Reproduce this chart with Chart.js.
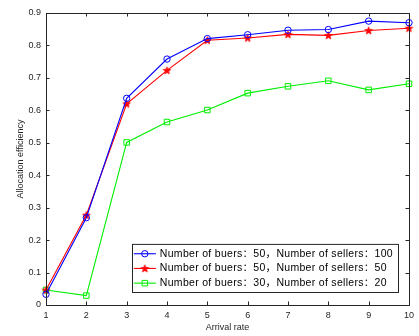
<!DOCTYPE html>
<html>
<head>
<meta charset="utf-8">
<script src="https://cdn.jsdelivr.net/npm/chart.js@4.4.1/dist/chart.umd.min.js"></script>
<style>
  html, body { margin: 0; padding: 0; background: #ffffff; }
  canvas { display: block; }
</style>
</head>
<body>
<canvas id="chart" width="419" height="336"></canvas>
<script>
// Arrival rates on the x axis
const arrivalRates = [1, 2, 3, 4, 5, 6, 7, 8, 9, 10];

// Allocation efficiency for each market size
const buyers50Sellers100 = [0.033, 0.269, 0.637, 0.758, 0.821, 0.833, 0.847, 0.849, 0.875, 0.870];
const buyers50Sellers50  = [0.046, 0.277, 0.620, 0.723, 0.816, 0.823, 0.834, 0.831, 0.846, 0.853];
const buyers30Sellers20  = [0.046, 0.029, 0.501, 0.564, 0.601, 0.653, 0.674, 0.691, 0.663, 0.682];

const seriesLabels = [
  'Number of buers\uFF1A50\uFF0CNumber of sellers\uFF1A100',
  'Number of buers\uFF1A50\uFF0CNumber of sellers\uFF1A50',
  'Number of buers\uFF1A30\uFF0CNumber of sellers\uFF1A20'
];

const yTicks = [0, 0.1, 0.2, 0.3, 0.4, 0.5, 0.6, 0.7, 0.8, 0.9];

const axisColor = '#262626';
const axisFont = { family: '"Liberation Sans", Arial, sans-serif', size: 9 };

// Five-pointed star marker drawn onto a small canvas
function makeStar(color) {
  const size = 11;
  const c = document.createElement('canvas');
  c.width = size; c.height = size;
  const g = c.getContext('2d');
  const cx = size / 2, cy = size / 2 + 0.3;
  const outer = 4.0, inner = 1.7;
  g.beginPath();
  for (let i = 0; i < 10; i++) {
    const r = i % 2 === 0 ? outer : inner;
    const a = -Math.PI / 2 + i * Math.PI / 5;
    const px = cx + r * Math.cos(a), py = cy + r * Math.sin(a);
    if (i === 0) g.moveTo(px, py); else g.lineTo(px, py);
  }
  g.closePath();
  g.fillStyle = color;
  g.fill();
  g.lineWidth = 0.8;
  g.strokeStyle = color;
  g.stroke();
  return c;
}
const redStar = makeStar('#ff0000');

function toPoints(values) {
  return arrivalRates.map((x, i) => ({ x: x, y: values[i] }));
}

// Box around the plot area with inward tick marks on all four sides
const boxTicksPlugin = {
  id: 'boxTicks',
  afterDatasetsDraw(chart) {
    const { ctx, chartArea: a, scales } = chart;
    const len = 3.5;
    ctx.save();
    ctx.strokeStyle = axisColor;
    ctx.lineWidth = 1;
    ctx.beginPath();
    scales.x.ticks.forEach(t => {
      const px = Math.round(scales.x.getPixelForValue(t.value)) + 0.5;
      ctx.moveTo(px, a.bottom); ctx.lineTo(px, a.bottom - len);
      ctx.moveTo(px, a.top); ctx.lineTo(px, a.top + len);
    });
    scales.y.ticks.forEach(t => {
      const py = Math.round(scales.y.getPixelForValue(t.value)) + 0.5;
      ctx.moveTo(a.left, py); ctx.lineTo(a.left + len, py);
      ctx.moveTo(a.right, py); ctx.lineTo(a.right - len, py);
    });
    ctx.stroke();
    ctx.strokeRect(Math.round(a.left) + 0.5, Math.round(a.top) + 0.5,
                   Math.round(a.right - a.left), Math.round(a.bottom - a.top));
    ctx.restore();
  }
};

// Legend box in the lower right corner of the plot area
const innerLegendPlugin = {
  id: 'innerLegend',
  afterDraw(chart) {
    const { ctx, chartArea: a } = chart;
    const sets = chart.data.datasets;
    ctx.save();
    ctx.font = '10.5px "Liberation Sans", Arial, "Noto Sans CJK SC", sans-serif';
    ctx.letterSpacing = '0.3px';
    const textWidth = Math.max(...sets.map(d => ctx.measureText(d.label).width));
    const rowH = 14.7;
    const lineLen = 22;
    const boxW = 2 + lineLen + 4 + textWidth + 5;
    const boxH = sets.length * rowH + 4;
    const right = Math.round(a.right - 11);
    const bottom = Math.round(a.bottom - 13);
    const left = right - boxW;
    const top = bottom - boxH;
    ctx.fillStyle = '#ffffff';
    ctx.fillRect(left, top, boxW, boxH);
    ctx.strokeStyle = axisColor;
    ctx.lineWidth = 1;
    ctx.strokeRect(Math.round(left) + 0.5, top + 0.5, Math.round(boxW), boxH);
    sets.forEach((d, i) => {
      const y = top + 2 + rowH * (i + 0.5) + 0.5;
      const x0 = left + 2;
      ctx.strokeStyle = d.borderColor;
      ctx.lineWidth = d.borderWidth;
      ctx.beginPath();
      ctx.moveTo(x0, y); ctx.lineTo(x0 + lineLen, y);
      ctx.stroke();
      ctx.fillStyle = 'rgba(0,0,0,0)';
      ctx.strokeStyle = d.borderColor;
      ctx.lineWidth = d.pointBorderWidth;
      Chart.helpers.drawPoint(ctx, {
        pointStyle: d.pointStyle,
        radius: d.pointRadius,
        borderWidth: d.pointBorderWidth,
        rotation: 0
      }, x0 + lineLen / 2, y);
      ctx.fillStyle = '#000000';
      ctx.textBaseline = 'middle';
      ctx.textAlign = 'left';
      ctx.fillText(d.label, x0 + lineLen + 4, y);
    });
    ctx.restore();
  }
};

new Chart(document.getElementById('chart'), {
  type: 'line',
  data: {
    datasets: [
      {
        label: seriesLabels[0],
        data: toPoints(buyers50Sellers100),
        borderColor: '#0000ff',
        backgroundColor: 'rgba(0,0,0,0)',
        borderWidth: 1.1,
        pointStyle: 'circle',
        pointRadius: 3.2,
        pointBorderWidth: 1,
        pointBorderColor: '#0000ff',
        pointBackgroundColor: 'rgba(0,0,0,0)',
        clip: false
      },
      {
        label: seriesLabels[1],
        data: toPoints(buyers50Sellers50),
        borderColor: '#ff0000',
        backgroundColor: 'rgba(0,0,0,0)',
        borderWidth: 1.1,
        pointStyle: redStar,
        pointRadius: 4,
        pointBorderWidth: 1,
        clip: false
      },
      {
        label: seriesLabels[2],
        data: toPoints(buyers30Sellers20),
        borderColor: '#00ee00',
        backgroundColor: 'rgba(0,0,0,0)',
        borderWidth: 1.1,
        pointStyle: 'rect',
        pointRadius: 3.9,
        pointBorderWidth: 1,
        pointBorderColor: '#00ee00',
        pointBackgroundColor: 'rgba(0,0,0,0)',
        clip: false
      }
    ]
  },
  options: {
    responsive: false,
    animation: false,
    devicePixelRatio: 1,
    layout: { padding: { top: 13, right: 5, left: 0, bottom: 0 } },
    plugins: {
      legend: { display: false },
      tooltip: { enabled: false }
    },
    elements: { line: { tension: 0 } },
    scales: {
      x: {
        type: 'linear',
        min: 1,
        max: 10,
        grid: { display: false, drawTicks: false },
        border: { display: false },
        ticks: {
          stepSize: 1,
          autoSkip: false,
          maxRotation: 0,
          color: axisColor,
          font: axisFont,
          padding: 5
        },
        title: {
          display: true,
          text: 'Arrival rate',
          color: axisColor,
          font: axisFont,
          padding: { top: 0, bottom: 2.6 }
        },
        afterFit(scale) { scale.height = 31; }
      },
      y: {
        min: 0,
        max: 0.9,
        grid: { display: false, drawTicks: false },
        border: { display: false },
        afterBuildTicks(scale) { scale.ticks = yTicks.map(v => ({ value: v })); },
        ticks: {
          color: axisColor,
          font: axisFont,
          padding: 5,
          callback: v => (v === 0 ? '0' : v.toFixed(1))
        },
        title: {
          display: true,
          text: 'Allocation efficiency',
          color: axisColor,
          font: axisFont,
          padding: { top: 15.6, bottom: 0 }
        },
        afterFit(scale) { scale.width = 46; }
      }
    }
  },
  plugins: [boxTicksPlugin, innerLegendPlugin]
});
</script>
</body>
</html>
